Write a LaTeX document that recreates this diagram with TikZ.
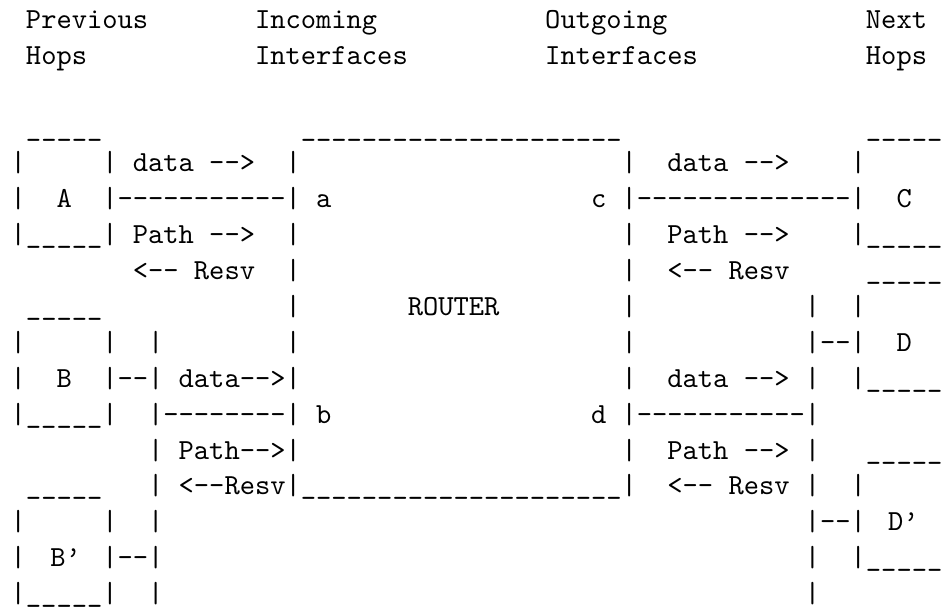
\documentclass[tikz,border=0pt]{standalone}
\usetikzlibrary{calc}
\newcommand\hh{-\kern0pt}
\newcommand\reph[1]{\foreach\ii in {1,...,#1}{-\kern0pt}}
\newcommand\repu[1]{\foreach\ii in {1,...,#1}{\_}}
\newcommand\ar{-\kern0pt-\kern0pt>}
\newcommand\al{<\kern0pt-\kern0pt-}
\tikzset{
  txt/.style={inner sep=0pt, outer sep=0pt, anchor=base west,
    font=\fontsize{10pt}{12pt}\selectfont\ttfamily},
}
\newcommand\cell[4]{\node[txt] (#1) at ({3.68pt+5.25pt*#2},{-9.73pt-12.34pt*#3}) {#4};}
\begin{document}
\begin{tikzpicture}
\useasboundingbox (0,0) rectangle (324.85pt,-209pt);
% row 0-1: headings
\cell{h1}{1}{0}{Previous}
\cell{h2}{16}{0}{Incoming}
\cell{h3}{35}{0}{Outgoing}
\cell{h4}{56}{0}{Next}
\cell{h5}{1}{1}{Hops}
\cell{h6}{16}{1}{Interfaces}
\cell{h7}{35}{1}{Interfaces}
\cell{h8}{56}{1}{Hops}
% row 3
\cell{r3a}{1}{3}{\repu{5}}
\cell{r3b}{19}{3}{\repu{21}}
\cell{r3c}{56}{3}{\repu{5}}
% row 4
\cell{r4a}{0}{4}{|}
\cell{r4b}{6}{4}{|}
\cell{r4c}{8}{4}{data \ar}
\cell{r4d}{18}{4}{|}
\cell{r4e}{40}{4}{|}
\cell{r4f}{43}{4}{data \ar}
\cell{r4g}{55}{4}{|}
% row 5
\cell{r5a}{0}{5}{|}
\cell{r5b}{3}{5}{A}
\cell{r5c}{6}{5}{|\reph{11}|}
\cell{r5d}{20}{5}{a}
\cell{r5e}{38}{5}{c}
\cell{r5f}{40}{5}{|\reph{14}|}
\cell{r5g}{58}{5}{C}
% row 6
\cell{r6a}{0}{6}{|\repu{5}|}
\cell{r6b}{8}{6}{Path \ar}
\cell{r6c}{18}{6}{|}
\cell{r6d}{40}{6}{|}
\cell{r6e}{43}{6}{Path \ar}
\cell{r6f}{55}{6}{|\repu{5}}
% row 7
\cell{r7a}{8}{7}{\al{} Resv}
\cell{r7b}{18}{7}{|}
\cell{r7c}{40}{7}{|}
\cell{r7d}{43}{7}{\al{} Resv}
\cell{r7e}{56}{7}{\repu{5}}
% row 8
\cell{r8a}{1}{8}{\repu{5}}
\cell{r8b}{18}{8}{|}
\cell{r8c}{26}{8}{ROUTER}
\cell{r8d}{40}{8}{|}
\cell{r8e}{52}{8}{|}
\cell{r8f}{55}{8}{|}
% row 9
\cell{r9a}{0}{9}{|}
\cell{r9b}{6}{9}{|}
\cell{r9c}{9}{9}{|}
\cell{r9d}{18}{9}{|}
\cell{r9e}{40}{9}{|}
\cell{r9f}{52}{9}{|\reph{2}|}
\cell{r9g}{58}{9}{D}
% row 10
\cell{r10a}{0}{10}{|}
\cell{r10b}{3}{10}{B}
\cell{r10c}{6}{10}{|\reph{2}|}
\cell{r10d}{11}{10}{data\ar|}
\cell{r10e}{40}{10}{|}
\cell{r10f}{43}{10}{data \ar}
\cell{r10g}{52}{10}{|}
\cell{r10h}{55}{10}{|\repu{5}}
% row 11
\cell{r11a}{0}{11}{|\repu{5}|}
\cell{r11b}{9}{11}{|\reph{8}|}
\cell{r11c}{20}{11}{b}
\cell{r11d}{38}{11}{d}
\cell{r11e}{40}{11}{|\reph{11}|}
% row 12
\cell{r12a}{9}{12}{|}
\cell{r12b}{11}{12}{Path\ar|}
\cell{r12c}{40}{12}{|}
\cell{r12d}{43}{12}{Path \ar}
\cell{r12e}{52}{12}{|}
\cell{r12f}{56}{12}{\repu{5}}
% row 13
\cell{r13a}{1}{13}{\repu{5}}
\cell{r13b}{9}{13}{|}
\cell{r13c}{11}{13}{\al{}Resv|\repu{21}|}
\cell{r13d}{43}{13}{\al{} Resv}
\cell{r13e}{52}{13}{|}
\cell{r13f}{55}{13}{|}
% row 14
\cell{r14a}{0}{14}{|}
\cell{r14b}{6}{14}{|}
\cell{r14c}{9}{14}{|}
\cell{r14d}{52}{14}{|\reph{2}|}
\cell{r14e}{57.45}{14}{D’}
% row 15
\cell{r15a}{0}{15}{|}
\cell{r15b}{2.6}{15}{B’}
\cell{r15c}{6}{15}{|\reph{2}|}
\cell{r15d}{52}{15}{|}
\cell{r15e}{55}{15}{|\repu{5}}
% row 16
\cell{r16a}{0}{16}{|\repu{5}|}
\cell{r16b}{9}{16}{|}
\cell{r16c}{52}{16}{|}
\end{tikzpicture}
\end{document}
